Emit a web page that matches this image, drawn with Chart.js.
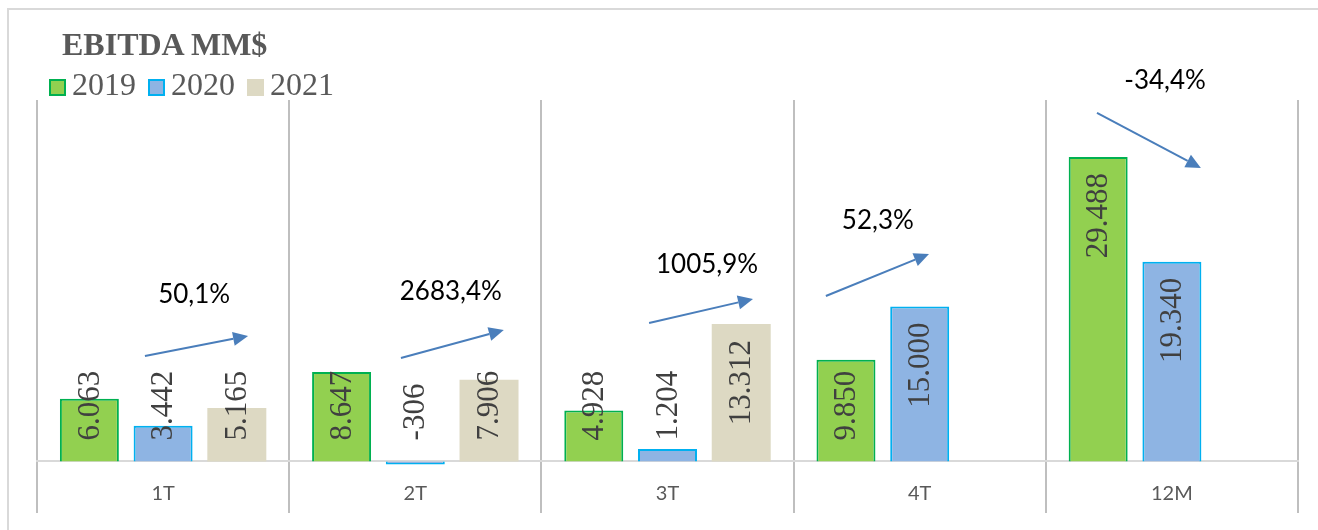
<!DOCTYPE html>
<html>
<head>
<meta charset="utf-8">
<script src="https://cdn.jsdelivr.net/npm/chart.js@4.4.1/dist/chart.umd.min.js"></script>
<style>
  html, body { margin: 0; padding: 0; background: #ffffff; }
  #wrap { position: relative; width: 1318px; height: 530px; overflow: hidden; }
  #frame { position: absolute; left: 7px; top: 8px; width: 1400px; height: 600px;
           border-left: 2px solid #d9d9d9; border-top: 2px solid #d9d9d9; }
  #ebitda { position: absolute; left: 0; top: 0; }
  #title { position: absolute; left: 62px; top: 28px; font: bold 32px 'Liberation Serif', serif;
           line-height: 32px; color: #595959; white-space: nowrap; }
  #legend { position: absolute; left: 49px; top: 68px; display: flex; align-items: center;
            font: 32px 'Liberation Serif', serif; line-height: 32px; color: #595959; }
  #legend .item { display: flex; align-items: center; margin-right: 12px; }
  #legend .box { width: 17px; height: 17px; box-sizing: border-box; margin-right: 6px; margin-top: 6px; }
</style>
</head>
<body>
<div id="wrap">
  <div id="frame"></div>
  <canvas id="ebitda" width="1318" height="530"></canvas>
  <div id="title">EBITDA MM$</div>
  <div id="legend"></div>
</div>
<script>
const categories = ['1T', '2T', '3T', '4T', '12M'];
const years = ['2019', '2020', '2021'];
const values2019 = [6063, 8647, 4928, 9850, 29488];
const values2020 = [3442, -306, 1204, 15000, 19340];
const values2021 = [5165, 7906, 13312, null, null];
const changes = [50.1, 2683.4, 1005.9, 52.3, -34.4];

const fills = ['#92D050', '#8EB4E3', '#DDD9C3'];
const borders = ['#00B050', '#00B0F0', '#DDD9C3'];
const borderWidths = [2, 2, 0];

function fmtThousands(v) {
    const s = Math.abs(v).toString().replace(/\B(?=(\d{3})+(?!\d))/g, '.');
    return (v < 0 ? '-' : '') + s;
}

function fmtPercent(v) {
    return v.toFixed(1).replace('.', ',') + '%';
}

// legend (html, so the box/text gap can match the original)
const legendEl = document.getElementById('legend');
years.forEach((y, i) => {
    const item = document.createElement('div');
    item.className = 'item';
    const box = document.createElement('span');
    box.className = 'box';
    box.style.background = fills[i];
    if (borderWidths[i]) box.style.border = borderWidths[i] + 'px solid ' + borders[i];
    item.appendChild(box);
    item.appendChild(document.createTextNode(y));
    legendEl.appendChild(item);
});

// value labels, rotated, at the inside end of each bar
const barLabels = {
    id: 'barLabels',
    afterDatasetsDraw(chart) {
        const ctx = chart.ctx;
        ctx.save();
        ctx.font = "31px 'Liberation Serif'";
        ctx.fillStyle = '#404040';
        ctx.textAlign = 'left';
        ctx.textBaseline = 'middle';
        chart.data.datasets.forEach((ds, di) => {
            chart.getDatasetMeta(di).data.forEach((bar, i) => {
                const v = ds.data[i];
                if (v === null || v === undefined) return;
                const text = fmtThousands(v);
                const w = ctx.measureText(text).width;
                const top = Math.min(bar.y, bar.base);
                const start = Math.min(bar.base - 21, top + 16 + w);
                ctx.save();
                ctx.translate(bar.x, start);
                ctx.rotate(-Math.PI / 2);
                ctx.fillText(text, 0, 1);
                ctx.restore();
            });
        });
        ctx.restore();
    }
};

// change arrows + percentage per category
// x in fractions of a category width from its centre, y in MM$ on the value axis
const arrowLayout = [
    { x0: -0.072, y0: 10208, x1: 0.337, y1: 12145, tx: 0.123, ty: 15341 },
    { x0: -0.057, y0: 10014, x1: 0.351, y1: 12726, tx: 0.141, ty: 15632 },
    { x0: -0.073, y0: 13404, x1: 0.339, y1: 15728, tx: 0.157, ty: 18247 },
    { x0: -0.372, y0: 16019, x1: 0.037, y1: 20087, tx: -0.166, ty: 22508 },
    { x0: -0.297, y0: 33743, x1: 0.115, y1: 28416, tx: -0.027, ty: 36067 }
];

const changeArrows = {
    id: 'changeArrows',
    afterDraw(chart) {
        const ctx = chart.ctx;
        const xs = chart.scales.x;
        const ys = chart.scales.y;
        const cw = xs.width / categories.length;
        ctx.save();
        changes.forEach((c, i) => {
            const a = arrowLayout[i];
            const cx = xs.getPixelForTick(i);
            const x0 = cx + a.x0 * cw, y0 = ys.getPixelForValue(a.y0);
            const x1 = cx + a.x1 * cw, y1 = ys.getPixelForValue(a.y1);
            const ang = Math.atan2(y1 - y0, x1 - x0);
            const hl = 15, hw = 7;
            const bx = x1 - hl * Math.cos(ang), by = y1 - hl * Math.sin(ang);
            ctx.strokeStyle = '#4A7EBB';
            ctx.fillStyle = '#4A7EBB';
            ctx.lineWidth = 2;
            ctx.beginPath();
            ctx.moveTo(x0, y0);
            ctx.lineTo(bx, by);
            ctx.stroke();
            ctx.beginPath();
            ctx.moveTo(x1, y1);
            ctx.lineTo(bx + hw * Math.sin(ang), by - hw * Math.cos(ang));
            ctx.lineTo(bx - hw * Math.sin(ang), by + hw * Math.cos(ang));
            ctx.closePath();
            ctx.fill();

            ctx.font = "26px Lato";
            ctx.fillStyle = '#000000';
            ctx.textAlign = 'center';
            ctx.textBaseline = 'alphabetic';
            ctx.fillText(fmtPercent(c), cx + a.tx * cw, ys.getPixelForValue(a.ty));
        });
        ctx.restore();
    }
};

const seriesValues = [values2019, values2020, values2021];

new Chart(document.getElementById('ebitda'), {
    type: 'bar',
    data: {
        labels: categories,
        datasets: years.map((y, i) => ({
            label: y,
            data: seriesValues[i],
            backgroundColor: fills[i],
            borderColor: borders[i],
            borderWidth: borderWidths[i],
            borderSkipped: 'start',
            categoryPercentage: 0.877,
            barPercentage: 0.8
        }))
    },
    options: {
        responsive: false,
        animation: false,
        layout: { padding: { left: 37, right: 20, top: 100, bottom: 17 } },
        plugins: {
            legend: { display: false },
            title: { display: false },
            tooltip: { enabled: false }
        },
        scales: {
            x: {
                position: { y: 0 },
                grid: {
                    offset: true,
                    color: '#BFBFBF',
                    lineWidth: 2,
                    drawTicks: false
                },
                border: { display: true, color: '#D9D9D9', width: 2 },
                ticks: {
                    color: '#595959',
                    font: { family: 'Lato', size: 20 },
                    padding: 20
                }
            },
            y: {
                display: false,
                min: -5000,
                max: 35000
            }
        }
    },
    plugins: [barLabels, changeArrows]
});
</script>
</body>
</html>
